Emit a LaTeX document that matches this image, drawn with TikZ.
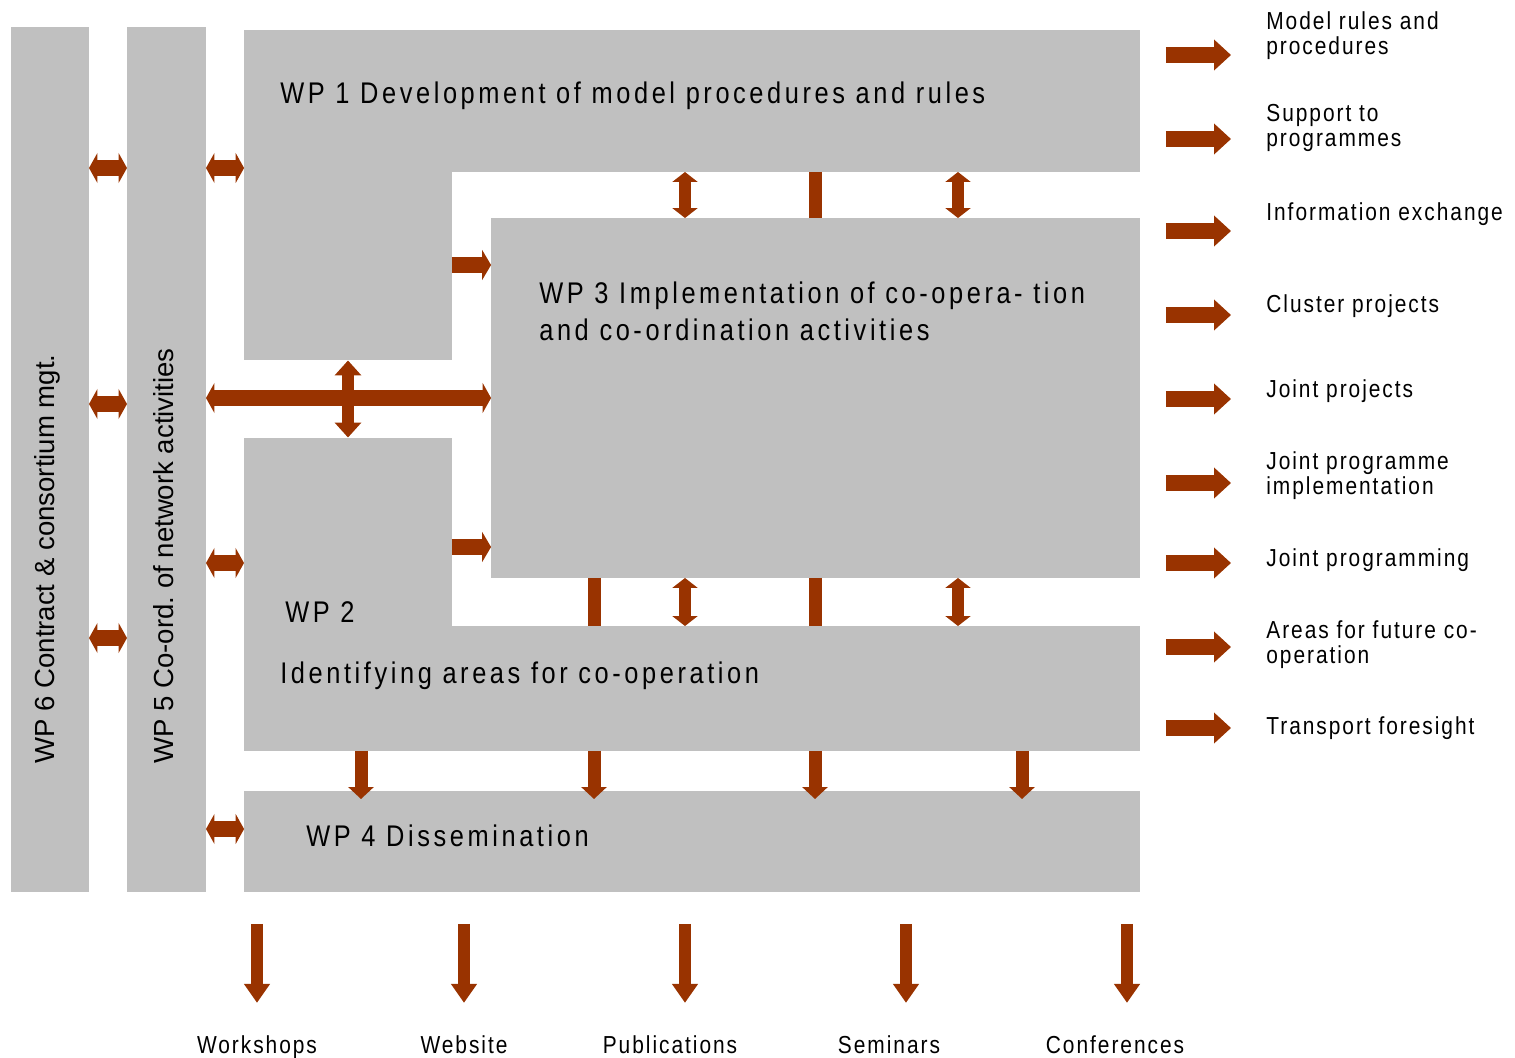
\documentclass[tikz,border=0pt]{standalone}
\usepackage{fontspec}
\setmainfont{Liberation Sans}
\newfontfamily\wpfont{Liberation Sans}[FakeStretch=0.85,LetterSpace=8]
\newfontfamily\wptitlefont{Liberation Sans}[FakeStretch=0.85,LetterSpace=12]
\usepackage{tikz}
\usetikzlibrary{arrows.meta, positioning}
\definecolor{wpgray}{HTML}{C0C0C0}
\definecolor{wpbrown}{HTML}{993300}

\begin{document}
\begin{tikzpicture}[x=0.02cm, y=-0.02cm]
    \tikzstyle{box} = [fill=wpgray, inner sep=0, outer sep=0]
    \tikzstyle{title} = [font=\wptitlefont\fontsize{17}{21}\selectfont, anchor=base west, inner sep=0, align=left]
    \tikzstyle{side} = [font=\fontsize{15.7}{19}\selectfont, rotate=90, anchor=base west, inner sep=0]
    \tikzstyle{outlabel} = [font=\wpfont\fontsize{14}{14.2}\selectfont, anchor=base west, inner sep=0, align=left]
    \tikzstyle{botlabel} = [font=\wpfont\fontsize{14}{14.2}\selectfont, anchor=base, inner sep=0]
    \tikzstyle{hdbl} = [wpbrown, line width=0.32cm, {Triangle[length=0.17cm,width=0.6cm]}-{Triangle[length=0.17cm,width=0.6cm]}]
    \tikzstyle{hone} = [wpbrown, line width=0.32cm, -{Triangle[length=0.18cm,width=0.6cm]}]
    \tikzstyle{hout} = [wpbrown, line width=0.32cm, -{Triangle[length=0.34cm,width=0.6cm]}]
    \tikzstyle{vdbl} = [wpbrown, line width=0.24cm, {Triangle[length=0.2cm,width=0.5cm]}-{Triangle[length=0.2cm,width=0.5cm]}]
    \tikzstyle{vbig} = [wpbrown, line width=0.24cm, {Triangle[length=0.3cm,width=0.52cm]}-{Triangle[length=0.3cm,width=0.52cm]}]
    \tikzstyle{bar} = [wpbrown, line width=0.26cm]
    \tikzstyle{vdown} = [wpbrown, line width=0.26cm, -{Triangle[length=0.24cm,width=0.5cm]}]
    \tikzstyle{vlong} = [wpbrown, line width=0.24cm, -{Triangle[length=0.38cm,width=0.5cm]}]
    \useasboundingbox (0,0) rectangle (1515,1058);

    % work package blocks
    \node[box, minimum width=1.56cm, minimum height=17.3cm] (wpsix) at (50,459.5) {};
    \node[box, minimum width=1.58cm, minimum height=17.3cm] (wpfive) at (166.5,459.5) {};
    \node[box, minimum width=17.92cm, minimum height=2.84cm] (wpone) at (692,101) {};
    \node[box, minimum width=4.16cm, minimum height=3.8cm] (wponeleg) at (348,265.5) {};
    \node[box, minimum width=12.98cm, minimum height=7.2cm] (wpthree) at (815.5,398) {};
    \node[box, minimum width=4.16cm, minimum height=3.8cm] (wptwoleg) at (348,532.5) {};
    \node[box, minimum width=17.92cm, minimum height=2.5cm] (wptwo) at (692,688.5) {};
    \node[box, minimum width=17.92cm, minimum height=2.02cm] (wpfour) at (692,841.5) {};

    \node[side] (sixtext) at (54,764) {WP 6 Contract \& consortium mgt.};
    \node[side] (fivetext) at (173,764) {WP 5 Co-ord.\ of network activities};
    \node[title] (onetext) at (280,103) {WP 1 Development of model procedures and rules};
    \node[title] (threetext) at (539,340) {WP 3 Implementation of co-opera- tion\\and co-ordination activities};
    \node[title] (twotext) at (285,622) {WP 2};
    \node[title] (twosub) at (280,683) {Identifying areas for co-operation};
    \node[title] (fourtext) at (306,846) {WP 4 Dissemination};

    % links between packages
    \foreach \y in {168,404,638}
        \draw[hdbl] (wpsix.east |- 0,\y) -- (wpfive.west |- 0,\y);
    \draw[hdbl] (wpfive.east |- 0,168) -- (wpone.west |- 0,168);
    \draw[hdbl] (wpfive.east |- 0,563) -- (wptwoleg.west |- 0,563);
    \draw[hdbl] (wpfive.east |- 0,829) -- (wpfour.west |- 0,829);
    \draw[hdbl] (wpfive.east |- 0,398) -- (wpthree.west |- 0,398);
    \draw[vbig] (wponeleg.south) -- (wptwoleg.north);
    \draw[hone] (wponeleg.east |- 0,265) -- (wpthree.west |- 0,265);
    \draw[hone] (wptwoleg.east |- 0,547) -- (wpthree.west |- 0,547);
    \foreach \x in {685,958} {
        \draw[vdbl] (\x,0 |- wpone.south) -- (\x,0 |- wpthree.north);
        \draw[vdbl] (\x,0 |- wpthree.south) -- (\x,0 |- wptwo.north);
    }
    \draw[bar] (815,0 |- wpone.south) -- (815,0 |- wpthree.north);
    \foreach \x in {594,815}
        \draw[bar] (\x,0 |- wpthree.south) -- (\x,0 |- wptwo.north);
    \foreach \x in {361,594,815,1022}
        \draw[vdown, shorten >=-0.16cm] (\x,0 |- wptwo.south) -- (\x,0 |- wpfour.north);

    % results
    \node[outlabel] (rules) at (1266,54) {Model rules and\\procedures};
    \node[outlabel] (support) at (1266,146) {Support to\\programmes};
    \node[outlabel] (exchange) at (1266,220) {Information exchange};
    \node[outlabel] (cluster) at (1266,312) {Cluster projects};
    \node[outlabel] (jointproj) at (1266,397) {Joint projects};
    \node[outlabel] (jointimpl) at (1266,494) {Joint programme\\implementation};
    \node[outlabel] (jointprog) at (1266,566) {Joint programming};
    \node[outlabel] (areas) at (1266,663) {Areas for future co-\\operation};
    \node[outlabel] (foresight) at (1266,734) {Transport foresight};
    \foreach \n/\y in {rules/55,support/139,exchange/231,cluster/315,jointproj/399,jointimpl/483,jointprog/563,areas/647,foresight/728}
        \draw[hout, shorten <=0.52cm, shorten >=0.7cm] (wpone.east |- 0,\y) -- (\n.west |- 0,\y);

    \node[botlabel] (workshops) at (257,1053) {Workshops};
    \node[botlabel] (website) at (464,1053) {Website};
    \node[botlabel] (publications) at (670,1053) {Publications};
    \node[botlabel] (seminars) at (889,1053) {Seminars};
    \node[botlabel] (conferences) at (1115,1053) {Conferences};
    \foreach \n/\x in {workshops/257,website/464,publications/685,seminars/906,conferences/1127}
        \draw[vlong, shorten <=0.64cm, shorten >=0.64cm] (\x,0 |- wpfour.south) -- (\x,0 |- \n.north);
\end{tikzpicture}
\end{document}
